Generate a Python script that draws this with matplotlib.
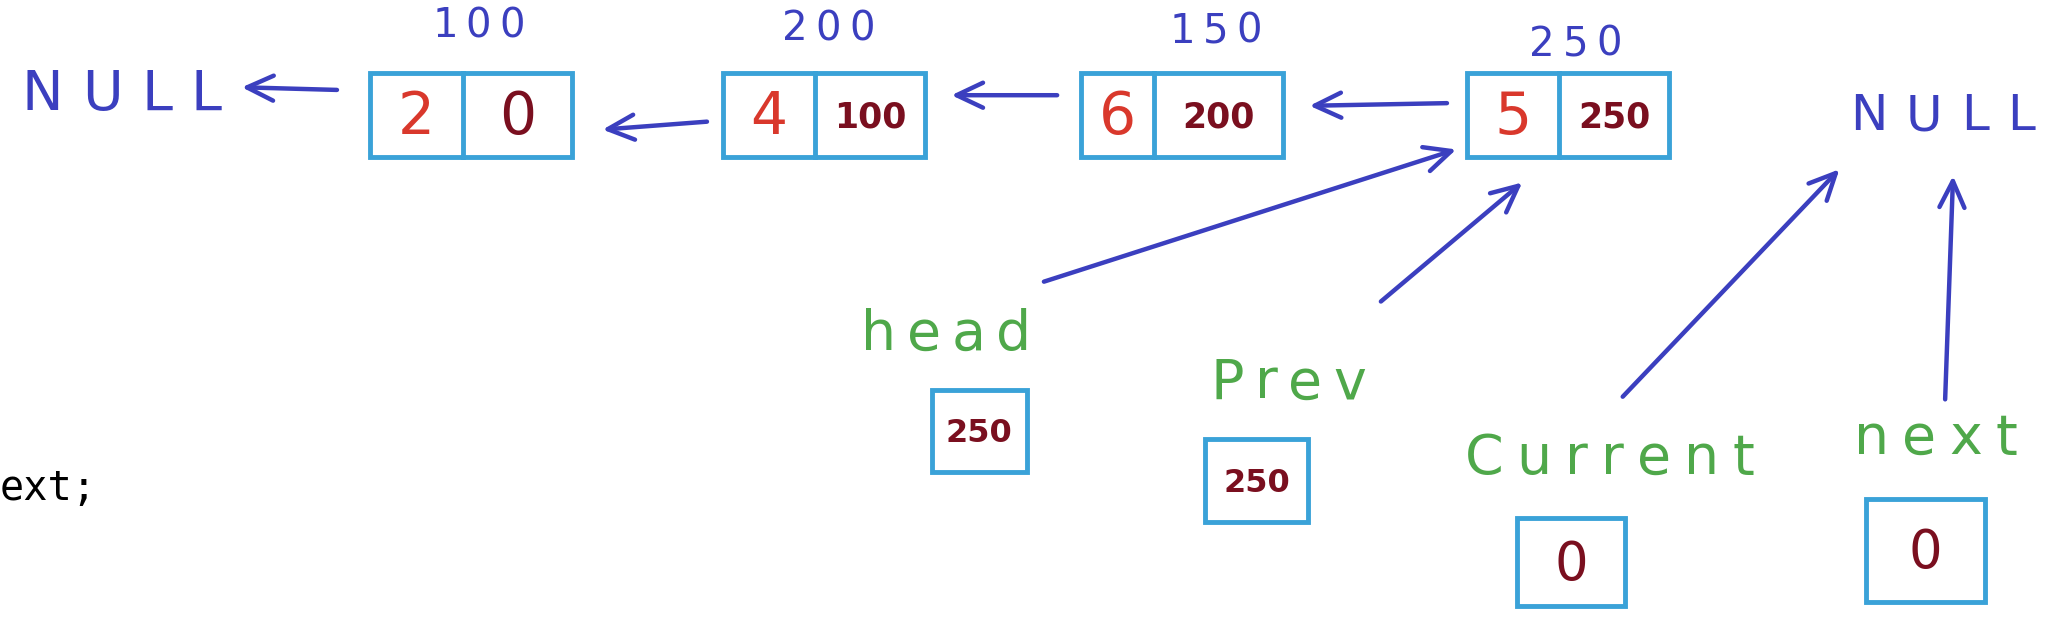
import matplotlib.pyplot as plt
from matplotlib.patches import Rectangle

# linked list nodes (drawn left to right)
node_data = ['2', '4', '6', '5']
node_link = ['0', '100', '200', '250']
node_addr = ['100', '200', '150', '250']

# pointer variables and what they hold
ptr_names = ['head', 'Prev', 'Current', 'next']
ptr_values = ['250', '250', '0', '0']

# layout, in a 1568 x 487 canvas
node_left = [280, 547, 818, 1110]
node_top = [55, 55, 55, 55]
node_w = 153
node_h = 64
node_split = [70, 70, 55, 70]
addr_pos = [(362, 20), (627, 22), (920, 24), (1192, 34)]

ptr_box = [(705, 295, 72, 62), (912, 332, 78, 63), (1148, 392, 82, 66), (1412, 377, 90, 78)]
ptr_label = [(716, 253), (975, 290), (1218, 347), (1465, 332)]
ptr_arrow = [((790, 213), (1102, 113)), ((1045, 228), (1152, 138)),
             ((1228, 300), (1392, 128)), ((1472, 302), (1478, 133))]
link_arrow = [((255, 68), (183, 66)), ((535, 92), (456, 98)),
              ((800, 72), (720, 72)), ((1095, 78), (991, 80))]

BLUE = '#3b3fbf'
BOX = '#3aa2d8'
RED = '#d9382c'
DARK = '#7a0f1f'
GREEN = '#4fa84a'

fig = plt.figure(figsize=(20.72, 6.44), dpi=100)
ax = fig.add_axes([0, 0, 1, 1])
ax.set_xlim(0, 1568)
ax.set_ylim(487, 0)
ax.axis('off')
renderer = fig.canvas.get_renderer()
px = 1568 / fig.bbox.width


def spaced(xc, y, s, gap, **kw):
    # hand-lettered look: characters placed with extra spacing
    widths = []
    for ch in s:
        t = ax.text(0, 0, ch, **kw)
        widths.append(t.get_window_extent(renderer).width * px)
        t.remove()
    total = sum(widths) + gap * (len(s) - 1)
    x = xc - total / 2
    for ch, w in zip(s, widths):
        ax.text(x, y, ch, ha='left', va='center', **kw)
        x += w + gap


def arrow(a, b):
    ax.annotate('', xy=b, xytext=a,
                arrowprops=dict(arrowstyle='->,head_length=1.9,head_width=0.9',
                                color=BLUE, lw=3.2, shrinkA=0, shrinkB=0))


for i in range(len(node_data)):
    x, y = node_left[i], node_top[i]
    ax.add_patch(Rectangle((x, y), node_w, node_h, fill=False, ec=BOX, lw=3.5))
    ax.plot([x + node_split[i]] * 2, [y, y + node_h], color=BOX, lw=3.5)
    ax.text(x + node_split[i] / 2, y + node_h / 2 + 2, node_data[i], color=RED,
            fontsize=42, ha='center', va='center')
    if len(node_link[i]) == 1:
        ax.text(x + (node_w + node_split[i]) / 2, y + node_h / 2 + 2, node_link[i],
                color=DARK, fontsize=42, ha='center', va='center')
    else:
        ax.text(x + (node_w + node_split[i]) / 2, y + node_h / 2 + 2, node_link[i],
                color=DARK, fontsize=25, ha='center', va='center', fontweight='bold')
    spaced(addr_pos[i][0], addr_pos[i][1], node_addr[i], 6, color=BLUE, fontsize=29)

spaced(92, 72, 'NULL', 14, color=BLUE, fontsize=40)
spaced(1470, 88, 'NULL', 14, color=BLUE, fontsize=36)

for a, b in link_arrow:
    arrow(a, b)
for a, b in ptr_arrow:
    arrow(a, b)

label_gap = [8, 8, 10, 10]
for i in range(len(ptr_names)):
    bx, by, bw, bh = ptr_box[i]
    ax.add_patch(Rectangle((bx, by), bw, bh, fill=False, ec=BOX, lw=3.5))
    if len(ptr_values[i]) == 1:
        ax.text(bx + bw / 2, by + bh / 2 + 2, ptr_values[i], color=DARK, fontsize=38,
                ha='center', va='center')
    else:
        ax.text(bx + bw / 2, by + bh / 2 + 2, ptr_values[i], color=DARK, fontsize=23,
                ha='center', va='center', fontweight='bold')
    spaced(ptr_label[i][0], ptr_label[i][1], ptr_names[i], label_gap[i],
           color=GREEN, fontsize=40)

ax.text(0, 370, 'ext;', color='black', fontsize=29, ha='left', va='center',
        family='DejaVu Sans Mono')

fig.savefig('out.png', dpi=100, facecolor='white')
